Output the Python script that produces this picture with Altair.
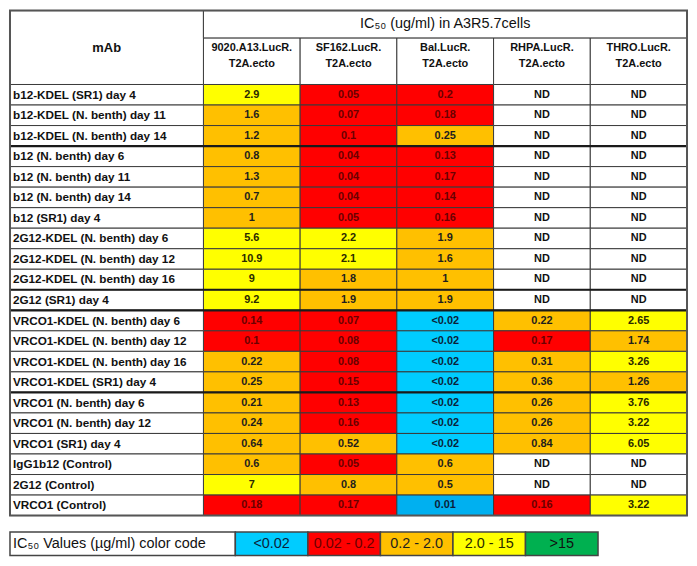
import altair as alt
import pandas as pd

# ---------------- data ----------------
mabs = [
    "b12-KDEL (SR1) day 4",
    "b12-KDEL (N. benth) day 11",
    "b12-KDEL (N. benth) day 14",
    "b12 (N. benth) day 6",
    "b12 (N. benth) day 11",
    "b12 (N. benth) day 14",
    "b12 (SR1) day 4",
    "2G12-KDEL (N. benth) day 6",
    "2G12-KDEL (N. benth) day 12",
    "2G12-KDEL (N. benth) day 16",
    "2G12 (SR1) day 4",
    "VRCO1-KDEL (N. benth) day 6",
    "VRCO1-KDEL (N. benth) day 12",
    "VRCO1-KDEL (N. benth) day 16",
    "VRCO1-KDEL (SR1) day 4",
    "VRCO1 (N. benth) day 6",
    "VRCO1 (N. benth) day 12",
    "VRCO1 (SR1) day 4",
    "IgG1b12 (Control)",
    "2G12 (Control)",
    "VRCO1 (Control)",
]

viruses = [
    "9020.A13.LucR.\nT2A.ecto",
    "SF162.LucR.\nT2A.ecto",
    "Bal.LucR.\nT2A.ecto",
    "RHPA.LucR.\nT2A.ecto",
    "THRO.LucR.\nT2A.ecto",
]

v_9020 = ["2.9", "1.6", "1.2", "0.8", "1.3", "0.7", "1", "5.6", "10.9", "9", "9.2",
          "0.14", "0.1", "0.22", "0.25", "0.21", "0.24", "0.64", "0.6", "7", "0.18"]
v_sf162 = ["0.05", "0.07", "0.1", "0.04", "0.04", "0.04", "0.05", "2.2", "2.1", "1.8", "1.9",
           "0.07", "0.08", "0.08", "0.15", "0.13", "0.16", "0.52", "0.05", "0.8", "0.17"]
v_bal = ["0.2", "0.18", "0.25", "0.13", "0.17", "0.14", "0.16", "1.9", "1.6", "1", "1.9",
         "<0.02", "<0.02", "<0.02", "<0.02", "<0.02", "<0.02", "<0.02", "0.6", "0.5", "0.01"]
v_rhpa = ["ND"] * 11 + ["0.22", "0.17", "0.31", "0.36", "0.26", "0.26", "0.84", "ND", "ND", "0.16"]
v_thro = ["ND"] * 11 + ["2.65", "1.74", "3.26", "1.26", "3.76", "3.22", "6.05", "ND", "ND", "3.22"]
series = [v_9020, v_sf162, v_bal, v_rhpa, v_thro]

title_text = "IC₅₀ (ug/ml) in A3R5.7cells"
legend_title = "IC₅₀ Values (µg/ml) color code"
legend_cats = ["<0.02", "0.02 - 0.2", "0.2 - 2.0", "2.0 - 15", ">15"]

# ---------------- style / layout ----------------
cat_domain = ["ND", "<0.02", "<0.02 measured", "0.02 - 0.2", "0.2 - 2.0", "2.0 - 15", ">15"]
fill_range = ["#FFFFFF", "#00CCFF", "#00B0F0", "#FF0000", "#FFC000", "#FFFF00", "#00B050"]
text_range = ["#111111", "#0B1F3A", "#0B1F3A", "#6A0000", "#1E1E1E", "#2A2A00", "#111111"]

LABEL_W = 2.0      # width of mAb column, in data-column units
N_COLS = 5
TITLE_H = 1.33     # heights in data-row units
HEAD_H = 2.27
TOP = TITLE_H + HEAD_H
GAP = 0.80
LEG_H = 1.14
LEG_LABEL_W = 2.33
LEG_CELL_W = 0.75
TOTAL_H = TOP + len(mabs) + GAP + LEG_H
TOTAL_W = LABEL_W + N_COLS

FONT = "Liberation Sans, Arial, sans-serif"
LINE = "#3a3a3a"


def category(s):
    if s == "ND":
        return "ND"
    if s.startswith("<"):
        return "<0.02"
    v = float(s)
    if v < 0.02:
        return "<0.02 measured"
    if v <= 0.2:
        return "0.02 - 0.2"
    if v <= 2.0:
        return "0.2 - 2.0"
    if v <= 15:
        return "2.0 - 15"
    return ">15"


# ---------------- tables ----------------
cells = []
for r, m in enumerate(mabs):
    for c in range(N_COLS):
        s = series[c][r]
        cells.append(dict(x0=LABEL_W + c, x1=LABEL_W + c + 1, y0=TOP + r, y1=TOP + r + 1,
                          xm=LABEL_W + c + 0.5, ym=TOP + r + 0.5, val=s, cat=category(s)))
cells = pd.DataFrame(cells)

labels = pd.DataFrame([dict(x0=0, x1=LABEL_W, y0=TOP + r, y1=TOP + r + 1, ym=TOP + r + 0.5, mab=m)
                       for r, m in enumerate(mabs)])

heads = pd.DataFrame([dict(x0=LABEL_W + c, x1=LABEL_W + c + 1, y0=TITLE_H, y1=TOP,
                           xm=LABEL_W + c + 0.5, yt=TITLE_H + 0.22, name=v)
                      for c, v in enumerate(viruses)])

top_cells = pd.DataFrame([
    dict(x0=0, x1=LABEL_W, y0=0, y1=TOP, xm=LABEL_W / 2, ym=TOP / 2, txt="mAb"),
    dict(x0=LABEL_W, x1=TOTAL_W, y0=0, y1=TITLE_H, xm=(LABEL_W + TOTAL_W) / 2, ym=TITLE_H / 2, txt=title_text),
])

thick_after = [3, 10, 11, 15]
thick = pd.DataFrame([dict(x0=0, x1=TOTAL_W, y=TOP + k) for k in thick_after])

outer = pd.DataFrame([dict(x0=0, x1=TOTAL_W, y0=0, y1=TOP + len(mabs))])

LEG_Y0 = TOP + len(mabs) + GAP
leg = pd.DataFrame([dict(x0=LEG_LABEL_W + i * LEG_CELL_W, x1=LEG_LABEL_W + (i + 1) * LEG_CELL_W,
                         y0=LEG_Y0, y1=LEG_Y0 + LEG_H,
                         xm=LEG_LABEL_W + (i + 0.5) * LEG_CELL_W, ym=LEG_Y0 + LEG_H / 2,
                         cat=k, txt=k) for i, k in enumerate(legend_cats)])
leg_label = pd.DataFrame([dict(x0=0, x1=LEG_LABEL_W, y0=LEG_Y0, y1=LEG_Y0 + LEG_H,
                               ym=LEG_Y0 + LEG_H / 2, txt=legend_title)])

# ---------------- scales ----------------
xs = alt.Scale(domain=[0, TOTAL_W], nice=False, zero=False)
ys = alt.Scale(domain=[0, TOTAL_H], nice=False, zero=False, reverse=True)
fill_scale = alt.Scale(domain=cat_domain, range=fill_range)
text_scale = alt.Scale(domain=cat_domain, range=text_range)


def X(f):
    return alt.X(f, type="quantitative", scale=xs, axis=None)


def Y(f):
    return alt.Y(f, type="quantitative", scale=ys, axis=None)


cell_rect = alt.Chart(cells).mark_rect(stroke=LINE, strokeWidth=1).encode(
    x=X("x0"), x2="x1", y=Y("y0"), y2="y1",
    fill=alt.Fill("cat:N", scale=fill_scale, legend=None))

cell_text = alt.Chart(cells).mark_text(font=FONT, fontSize=11, fontWeight="bold",
                                       baseline="middle", align="center").encode(
    x=X("xm"), y=Y("ym"), text="val:N",
    color=alt.Color("cat:N", scale=text_scale, legend=None))

label_rect = alt.Chart(labels).mark_rect(fill="white", stroke=LINE, strokeWidth=1).encode(
    x=X("x0"), x2="x1", y=Y("y0"), y2="y1")

label_text = alt.Chart(labels).mark_text(font=FONT, fontSize=11.8, fontWeight="bold", color="#111111",
                                         align="left", baseline="middle", dx=3).encode(
    x=X("x0"), y=Y("ym"), text="mab:N")

head_rect = alt.Chart(heads).mark_rect(fill="white", stroke=LINE, strokeWidth=1).encode(
    x=X("x0"), x2="x1", y=Y("y0"), y2="y1")

head_text = alt.Chart(heads).mark_text(font=FONT, fontSize=11, fontWeight="bold", color="#111111",
                                       align="center", baseline="top", lineBreak="\n",
                                       lineHeight=16).encode(
    x=X("xm"), y=Y("yt"), text="name:N")

top_rect = alt.Chart(top_cells).mark_rect(fill="white", stroke=LINE, strokeWidth=1).encode(
    x=X("x0"), x2="x1", y=Y("y0"), y2="y1")

mab_text = alt.Chart(top_cells.iloc[[0]]).mark_text(font=FONT, fontSize=13, fontWeight="bold",
                                                    color="#111111", baseline="middle").encode(
    x=X("xm"), y=Y("ym"), text="txt:N")

title_txt = alt.Chart(top_cells.iloc[[1]]).mark_text(font=FONT, fontSize=14.5, color="#111111",
                                                     baseline="middle").encode(
    x=X("xm"), y=Y("ym"), text="txt:N")

thick_rules = alt.Chart(thick).mark_rule(color="#1a1a1a", strokeWidth=2.2).encode(
    x=X("x0"), x2="x1", y=Y("y"))

outer_rect = alt.Chart(outer).mark_rect(fill=None, filled=False, stroke="#555555", strokeWidth=2).encode(
    x=X("x0"), x2="x1", y=Y("y0"), y2="y1")

leg_label_rect = alt.Chart(leg_label).mark_rect(fill="white", stroke="#444444", strokeWidth=1.5).encode(
    x=X("x0"), x2="x1", y=Y("y0"), y2="y1")

leg_label_text = alt.Chart(leg_label).mark_text(font=FONT, fontSize=14.5, color="#111111",
                                                align="left", baseline="middle", dx=3).encode(
    x=X("x0"), y=Y("ym"), text="txt:N")

leg_rect = alt.Chart(leg).mark_rect(stroke="#444444", strokeWidth=1.5).encode(
    x=X("x0"), x2="x1", y=Y("y0"), y2="y1",
    fill=alt.Fill("cat:N", scale=fill_scale, legend=None))

leg_text = alt.Chart(leg).mark_text(font=FONT, fontSize=14.5, baseline="middle", align="center").encode(
    x=X("xm"), y=Y("ym"), text="txt:N",
    color=alt.Color("cat:N", scale=text_scale, legend=None))

chart = alt.layer(
    cell_rect, label_rect, head_rect, top_rect,
    thick_rules, outer_rect,
    cell_text, label_text, head_text, mab_text, title_txt,
    leg_label_rect, leg_rect, leg_label_text, leg_text,
).properties(width=681, height=548, padding=0, background="white").configure_view(stroke=None)

chart.save("out.html", embed_options={"renderer": "svg", "actions": False})
